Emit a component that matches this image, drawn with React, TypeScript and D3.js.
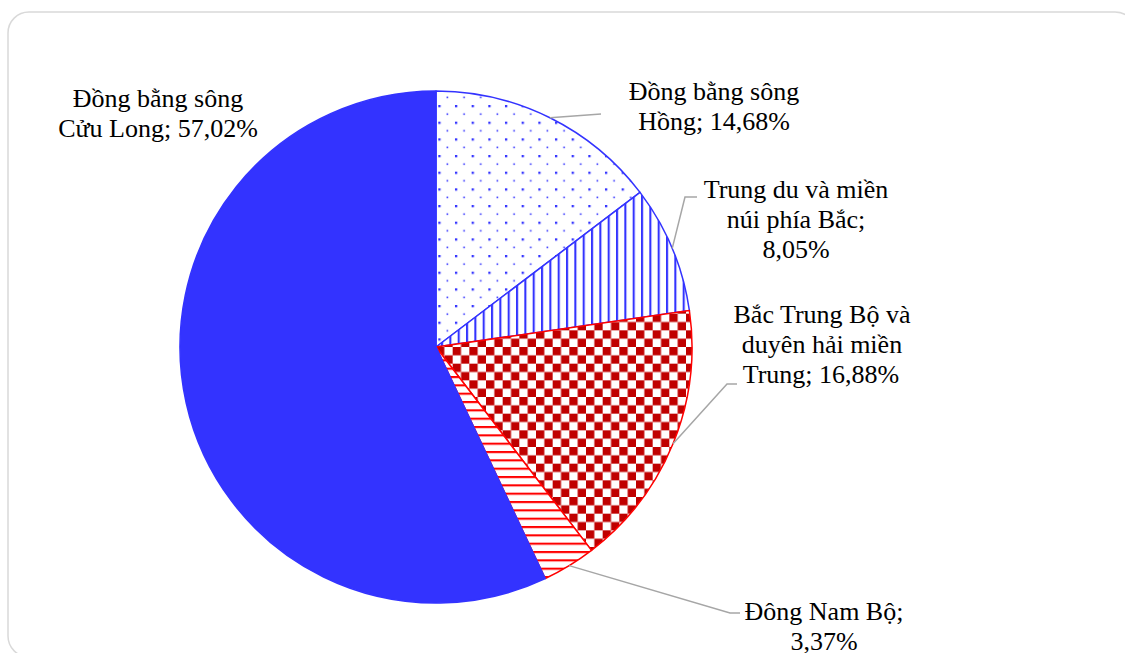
import React from "react";
import * as d3 from "d3";

const categories = [
  "Đồng bằng sông Hồng",
  "Trung du và miền núi phía Bắc",
  "Bắc Trung Bộ và duyên hải miền Trung",
  "Đông Nam Bộ",
  "Đồng bằng sông Cửu Long",
];
const values = [14.68, 8.05, 16.88, 3.37, 57.02];
const labelLines = [
  ["Đồng bằng sông", "Hồng; 14,68%"],
  ["Trung du và miền", "núi phía Bắc;", "8,05%"],
  ["Bắc Trung Bộ và", "duyên hải miền", "Trung; 16,88%"],
  ["Đông Nam Bộ;", "3,37%"],
  ["Đồng bằng sông", "Cửu Long; 57,02%"],
];

const W = 1125;
const H = 653;
const CX = 436;
const CY = 347;
const R = 256;
const BLUE = "#3333FF";
const RED = "#FF0000";
const DARKRED = "#C00000";
const LINE_H = 30;

const fills = ["url(#dots)", "url(#vlines)", "url(#checker)", "url(#hlines)", BLUE];
const strokes = [BLUE, BLUE, RED, RED, BLUE];

// label layout: text center x, first baseline, per-line x shifts, leader path points (after start)
const labelLayout = [
  { x: 714, y: 100, dx: [0, 0], leader: [[601, 114]] },
  { x: 796, y: 198, dx: [0, 0, 0], leader: [[685, 197], [697, 197]] },
  { x: 822, y: 323, dx: [0, 0, -1], leader: [[727, 384], [737, 384]] },
  { x: 824, y: 620, dx: [0, 0], leader: [[730, 613], [740, 613]] },
  { x: 158, y: 107, dx: [0, 0], leader: null },
];

export default function App() {
  const pie = d3.pie<number>().sort(null).value((d) => d)(values);
  const arc = d3.arc<d3.PieArcDatum<number>>().innerRadius(0).outerRadius(R);
  const line = d3.line();

  return (
    <svg
      width={W}
      height={H}
      style={{ position: "absolute", left: 0, top: 0, background: "#fff" }}
      fontFamily="'Liberation Serif', 'Times New Roman', serif"
    >
      <defs>
        <pattern id="dots" patternUnits="userSpaceOnUse" width={16.667} height={16.667} x={2.3} y={8}>
          <rect width={16.667} height={16.667} fill="#fff" />
          <rect x={0} y={0} width={2.3} height={2.3} fill={BLUE} />
          <rect x={8.33} y={8.33} width={1.6} height={1.6} fill={BLUE} />
        </pattern>
        <pattern id="vlines" patternUnits="userSpaceOnUse" width={8.333} height={8.333} x={5} y={0}>
          <rect width={8.333} height={8.333} fill="#fff" />
          <rect x={0} y={0} width={2.1} height={8.333} fill={BLUE} />
        </pattern>
        <pattern id="hlines" patternUnits="userSpaceOnUse" width={8.333} height={8.333} x={0} y={4}>
          <rect width={8.333} height={8.333} fill="#fff" />
          <rect x={0} y={0} width={8.333} height={2.1} fill={RED} />
        </pattern>
        <pattern id="checker" patternUnits="userSpaceOnUse" width={16.667} height={16.667} x={0} y={0}>
          <rect width={16.667} height={16.667} fill="#fff" />
          <rect x={0} y={0} width={8.333} height={8.333} fill={DARKRED} />
          <rect x={8.333} y={8.333} width={8.333} height={8.333} fill={DARKRED} />
        </pattern>
      </defs>
      <rect x={8} y={12} width={1128} height={645} rx={21} ry={21} fill="#fff" stroke="#d9d9d9" strokeWidth={1.5} />
      <g transform={`translate(${CX},${CY})`}>
        {pie.map((d, i) => (
          <path key={categories[i]} d={arc(d) || ""} fill={fills[i]} stroke={strokes[i]} strokeWidth={1.5} strokeLinejoin="round" />
        ))}
      </g>
      {pie.map((d, i) => {
        const lay = labelLayout[i];
        if (!lay.leader) return null;
        const mid = (d.startAngle + d.endAngle) / 2;
        const start: [number, number] = [CX + R * Math.sin(mid), CY - R * Math.cos(mid)];
        const pts = [start, ...(lay.leader as [number, number][])];
        return <path key={"l" + i} d={line(pts) || ""} fill="none" stroke="#A6A6A6" strokeWidth={1.5} />;
      })}
      {labelLines.map((lines, i) => {
        const lay = labelLayout[i];
        return (
          <text key={"t" + i} fontSize={26} fill="#000" textAnchor="middle">
            {lines.map((s, j) => (
              <tspan key={j} x={lay.x + lay.dx[j]} y={lay.y + j * LINE_H}>
                {s}
              </tspan>
            ))}
          </text>
        );
      })}
    </svg>
  );
}
